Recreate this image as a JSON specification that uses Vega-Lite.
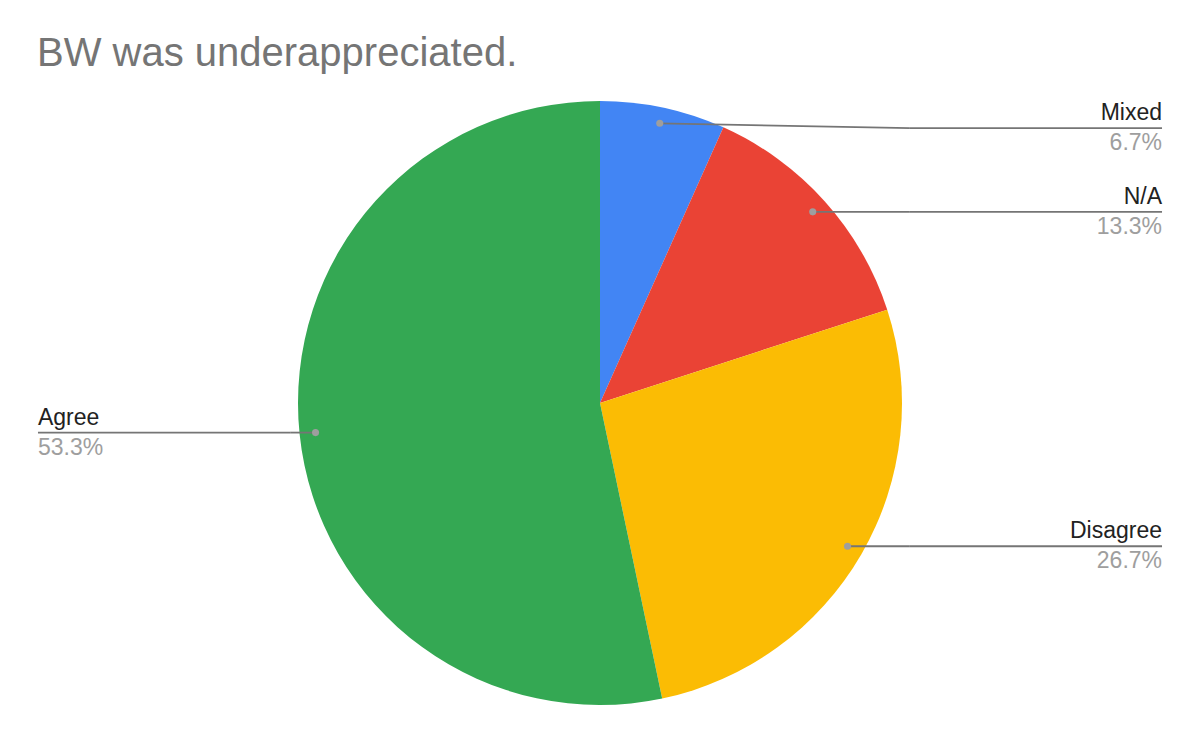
{
  "$schema": "https://vega.github.io/schema/vega-lite/v6.json",
  "width": 1200,
  "height": 742,
  "padding": 0,
  "autosize": {"type": "none"},
  "background": "white",
  "config": {"view": {"stroke": null}, "font": "Liberation Sans"},
  "title": {
    "text": "BW was underappreciated.",
    "anchor": "start",
    "frame": "group",
    "orient": "top",
    "offset": 0,
    "dx": 37,
    "dy": 106,
    "baseline": "alphabetic",
    "font": "Liberation Sans",
    "fontSize": 40,
    "fontWeight": "normal",
    "color": "#757575"
  },
  "data": {
    "values": [
      {"answer": "Mixed", "pct": 6.7},
      {"answer": "N/A", "pct": 13.3},
      {"answer": "Disagree", "pct": 26.7},
      {"answer": "Agree", "pct": 53.3}
    ]
  },
  "transform": [
    {"window": [{"op": "sum", "field": "pct", "as": "cumEnd"}], "frame": [null, 0]},
    {"calculate": "datum.cumEnd - datum.pct", "as": "start"},
    {"calculate": "(datum.start + datum.pct / 2) / 100 * 2 * PI", "as": "ang"},
    {"calculate": "0.947 * sin(datum.ang)", "as": "px"},
    {"calculate": "0.947 * cos(datum.ang)", "as": "py"},
    {"calculate": "datum.px >= 0 ? 1 : -1", "as": "side"},
    {"calculate": "min(datum.py, 0.91)", "as": "ly"},
    {"calculate": "datum.side * 1.026", "as": "ex"},
    {"calculate": "datum.side * 1.861", "as": "lx"},
    {"calculate": "format(datum.pct, '.1f') + '%'", "as": "pctLabel"}
  ],
  "layer": [
    {
      "mark": {"type": "arc", "radius": 302},
      "encoding": {
        "x": {"datum": 0, "type": "quantitative", "scale": {"domain": [-1.98675, 1.98675], "nice": false, "zero": false}, "axis": null},
        "y": {"datum": 0, "type": "quantitative", "scale": {"domain": [-1.12252, 1.33444], "nice": false, "zero": false}, "axis": null},
        "theta": {"field": "start", "type": "quantitative", "scale": {"domain": [0, 100]}, "stack": null},
        "theta2": {"field": "cumEnd"},
        "color": {
          "field": "answer",
          "type": "nominal",
          "scale": {"domain": ["Mixed", "N/A", "Disagree", "Agree"], "range": ["#4285F4", "#EA4335", "#FBBC04", "#34A853"]},
          "legend": null
        }
      }
    },
    {
      "mark": {"type": "rule", "color": "#757575", "strokeWidth": 1.8},
      "encoding": {
        "x": {"field": "px", "type": "quantitative"},
        "y": {"field": "py", "type": "quantitative"},
        "x2": {"field": "ex"},
        "y2": {"field": "ly"}
      }
    },
    {
      "mark": {"type": "rule", "color": "#757575", "strokeWidth": 1.8},
      "encoding": {
        "x": {"field": "ex", "type": "quantitative"},
        "y": {"field": "ly", "type": "quantitative"},
        "x2": {"field": "lx"},
        "y2": {"field": "ly"}
      }
    },
    {
      "mark": {"type": "point", "filled": true, "color": "#9E9E9E", "size": 50, "opacity": 1},
      "encoding": {
        "x": {"field": "px", "type": "quantitative"},
        "y": {"field": "py", "type": "quantitative"}
      }
    },
    {
      "transform": [{"filter": "datum.side > 0"}],
      "mark": {"type": "text", "align": "right", "baseline": "alphabetic", "dy": -8, "fontSize": 23, "color": "#222222", "font": "Liberation Sans"},
      "encoding": {
        "x": {"field": "lx", "type": "quantitative"},
        "y": {"field": "ly", "type": "quantitative"},
        "text": {"field": "answer"}
      }
    },
    {
      "transform": [{"filter": "datum.side > 0"}],
      "mark": {"type": "text", "align": "right", "baseline": "alphabetic", "dy": 22, "fontSize": 23, "color": "#9E9E9E", "font": "Liberation Sans"},
      "encoding": {
        "x": {"field": "lx", "type": "quantitative"},
        "y": {"field": "ly", "type": "quantitative"},
        "text": {"field": "pctLabel"}
      }
    },
    {
      "transform": [{"filter": "datum.side < 0"}],
      "mark": {"type": "text", "align": "left", "baseline": "alphabetic", "dy": -8, "fontSize": 23, "color": "#222222", "font": "Liberation Sans"},
      "encoding": {
        "x": {"field": "lx", "type": "quantitative"},
        "y": {"field": "ly", "type": "quantitative"},
        "text": {"field": "answer"}
      }
    },
    {
      "transform": [{"filter": "datum.side < 0"}],
      "mark": {"type": "text", "align": "left", "baseline": "alphabetic", "dy": 22, "fontSize": 23, "color": "#9E9E9E", "font": "Liberation Sans"},
      "encoding": {
        "x": {"field": "lx", "type": "quantitative"},
        "y": {"field": "ly", "type": "quantitative"},
        "text": {"field": "pctLabel"}
      }
    }
  ]
}
